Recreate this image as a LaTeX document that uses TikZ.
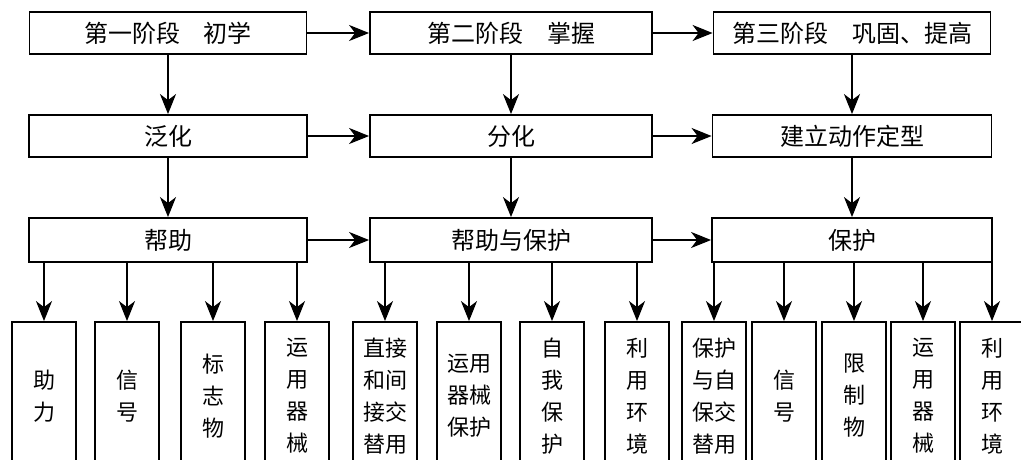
\documentclass[tikz,border=0pt]{standalone}
\usepackage{fontspec}
\newfontfamily\cjk{Noto Sans CJK SC}
\usetikzlibrary{arrows.meta}
\begin{document}
\begin{tikzpicture}[x=1pt,y=-1pt,
  box/.style={draw,line width=1.8pt,inner sep=0pt,minimum height=42pt,font=\cjk\fontsize{24}{28}\selectfont},
  sbox/.style={draw,line width=1.8pt,inner sep=0pt,minimum width=64pt,minimum height=148pt,align=center,font=\cjk\fontsize{22}{32}\selectfont},
  arr/.style={line width=1.8pt,-{Stealth[length=20pt,width=16pt,inset=6pt]}}]
\useasboundingbox (0,0) rectangle (1021,459);
\clip (0,0) rectangle (1021,459);
\fill[white] (0,0) rectangle (1021,459);
% row 1
\node[box,minimum width=277pt] (s1) at (168,33) {第一阶段　初学};
\node[box,minimum width=282pt] (s2) at (511,33) {第二阶段　掌握};
\node[box,minimum width=277pt] (s3) at (852,33) {第三阶段　巩固、提高};
% row 2
\node[box,minimum width=278pt] (p1) at (168,136) {泛化};
\node[box,minimum width=282pt] (p2) at (511,136) {分化};
\node[box,minimum width=279pt] (p3) at (852,136) {建立动作定型};
% row 3
\node[box,minimum width=278pt,minimum height=44pt] (h1) at (168,240) {帮助};
\node[box,minimum width=282pt,minimum height=44pt] (h2) at (511,240) {帮助与保护};
\node[box,minimum width=280pt,minimum height=44pt] (h3) at (852,240) {保护};
% bottom boxes
\node[sbox] (b1) at (44,396) {助\\力};
\node[sbox] (b2) at (127,396) {信\\号};
\node[sbox] (b3) at (213,396) {标\\志\\物};
\node[sbox] (b4) at (297,396) {运\\用\\器\\械};
\node[sbox] (c1) at (385,396) {直接\\和间\\接交\\替用};
\node[sbox] (c2) at (469,396) {运用\\器械\\保护};
\node[sbox] (c3) at (552,396) {自\\我\\保\\护};
\node[sbox] (c4) at (637,396) {利\\用\\环\\境};
\node[sbox] (d1) at (714,396) {保护\\与自\\保交\\替用};
\node[sbox] (d2) at (784,396) {信\\号};
\node[sbox] (d3) at (854,396) {限\\制\\物};
\node[sbox] (d4) at (923,396) {运\\用\\器\\械};
\node[sbox] (d5) at (992,396) {利\\用\\环\\境};
% horizontal arrows
\draw[arr] (s1) -- (s2);
\draw[arr] (s2) -- (s3);
\draw[arr] (p1) -- (p2);
\draw[arr] (p2) -- (p3);
\draw[arr] (h1) -- (h2);
\draw[arr] (h2) -- (h3);
% vertical arrows
\draw[arr] (s1.south) -- (p1.north);
\draw[arr] (s2.south) -- (p2.north);
\draw[arr] (s3.south) -- (p3.north);
\draw[arr] (p1.south) -- (h1.north);
\draw[arr] (p2.south) -- (h2.north);
\draw[arr] (p3.south) -- (h3.north);
\foreach \b/\h in {b1/h1,b2/h1,b3/h1,b4/h1,c1/h2,c2/h2,c3/h2,c4/h2,d1/h3,d2/h3,d3/h3,d4/h3,d5/h3}
  \draw[arr] (\b.north |- \h.south) -- (\b.north);
\end{tikzpicture}
\end{document}
